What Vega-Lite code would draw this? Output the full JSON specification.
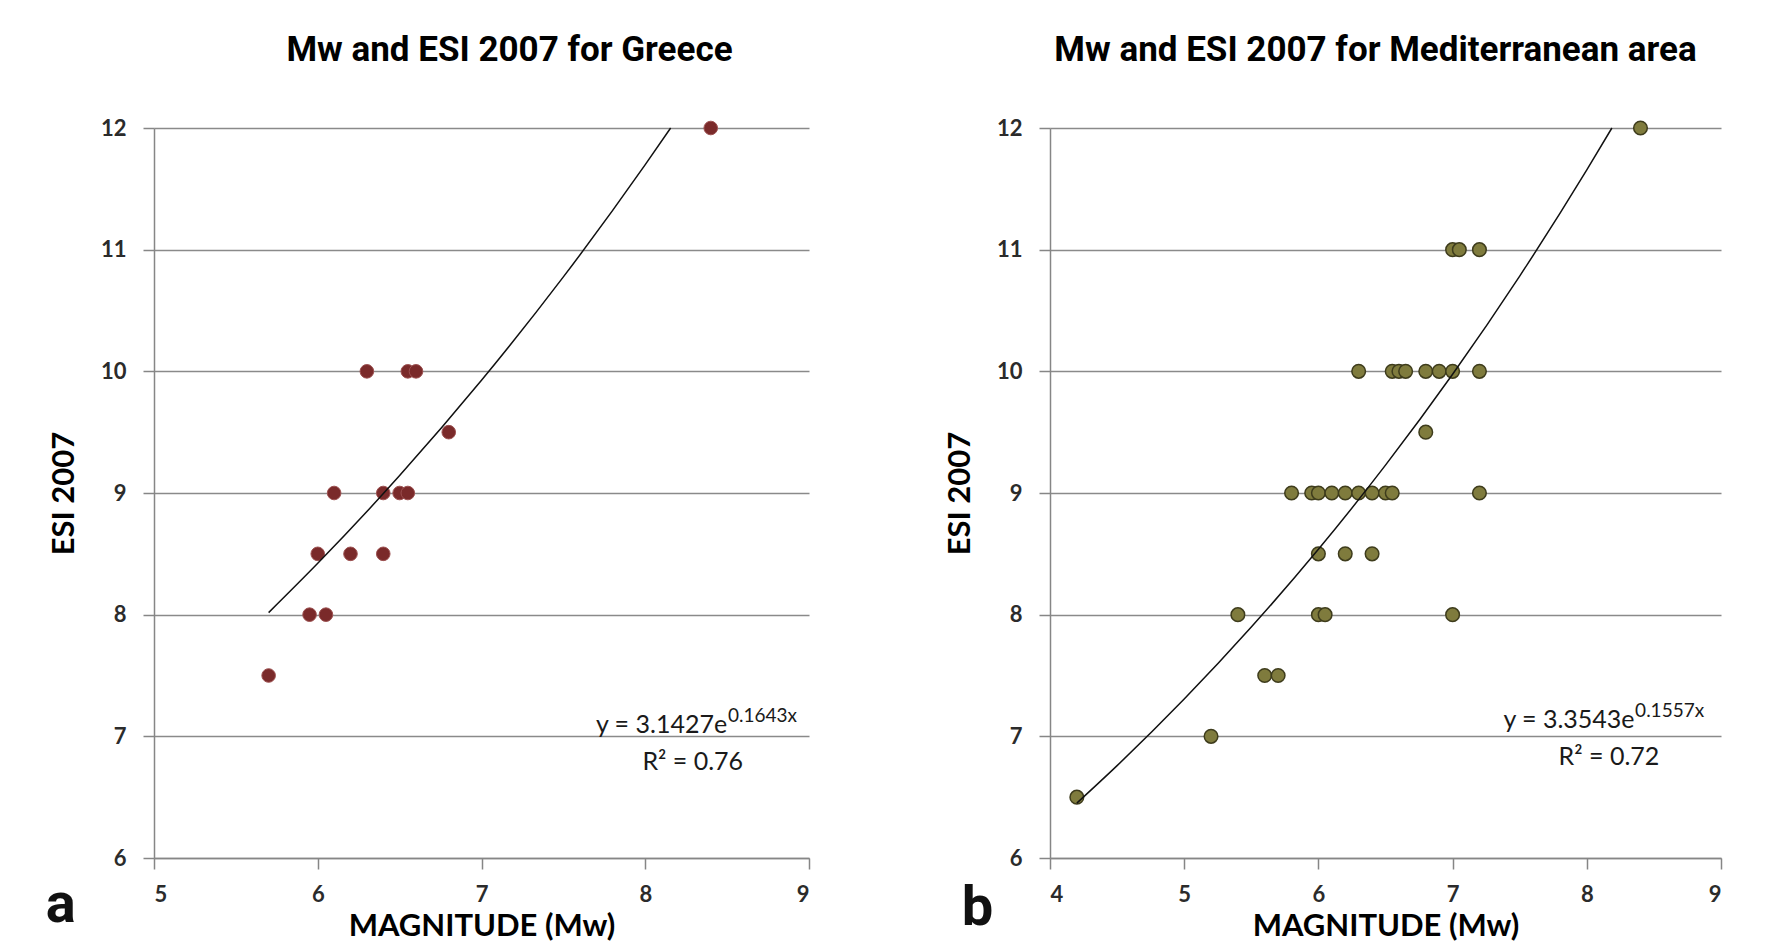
{
  "$schema": "https://vega.github.io/schema/vega-lite/v6.json",
  "background": "white",
  "padding": {"left": 45, "top": 33, "right": 5, "bottom": 5},
  "datasets": {
    "greece": [
      {"Mw": 5.7, "ESI": 7.5}, {"Mw": 5.95, "ESI": 8}, {"Mw": 6.05, "ESI": 8},
      {"Mw": 6.0, "ESI": 8.5}, {"Mw": 6.2, "ESI": 8.5}, {"Mw": 6.4, "ESI": 8.5},
      {"Mw": 6.1, "ESI": 9}, {"Mw": 6.4, "ESI": 9}, {"Mw": 6.5, "ESI": 9}, {"Mw": 6.55, "ESI": 9},
      {"Mw": 6.8, "ESI": 9.5},
      {"Mw": 6.3, "ESI": 10}, {"Mw": 6.55, "ESI": 10}, {"Mw": 6.6, "ESI": 10},
      {"Mw": 8.4, "ESI": 12}
    ],
    "med": [
      {"Mw": 4.2, "ESI": 6.5}, {"Mw": 5.2, "ESI": 7},
      {"Mw": 5.6, "ESI": 7.5}, {"Mw": 5.7, "ESI": 7.5},
      {"Mw": 5.4, "ESI": 8}, {"Mw": 6.0, "ESI": 8}, {"Mw": 6.05, "ESI": 8}, {"Mw": 7.0, "ESI": 8},
      {"Mw": 6.0, "ESI": 8.5}, {"Mw": 6.2, "ESI": 8.5}, {"Mw": 6.4, "ESI": 8.5},
      {"Mw": 5.8, "ESI": 9}, {"Mw": 5.95, "ESI": 9}, {"Mw": 6.0, "ESI": 9}, {"Mw": 6.1, "ESI": 9},
      {"Mw": 6.2, "ESI": 9}, {"Mw": 6.3, "ESI": 9}, {"Mw": 6.4, "ESI": 9}, {"Mw": 6.5, "ESI": 9},
      {"Mw": 6.55, "ESI": 9}, {"Mw": 7.2, "ESI": 9},
      {"Mw": 6.8, "ESI": 9.5},
      {"Mw": 6.3, "ESI": 10}, {"Mw": 6.55, "ESI": 10}, {"Mw": 6.6, "ESI": 10}, {"Mw": 6.65, "ESI": 10},
      {"Mw": 6.8, "ESI": 10}, {"Mw": 6.9, "ESI": 10}, {"Mw": 7.0, "ESI": 10}, {"Mw": 7.2, "ESI": 10},
      {"Mw": 7.0, "ESI": 11}, {"Mw": 7.05, "ESI": 11}, {"Mw": 7.2, "ESI": 11},
      {"Mw": 8.4, "ESI": 12}
    ],
    "trendGreece": [
      {"Mw": 5.7, "ESI": 8.017}, {"Mw": 6.0, "ESI": 8.422}, {"Mw": 6.5, "ESI": 9.143},
      {"Mw": 7.0, "ESI": 9.926}, {"Mw": 7.5, "ESI": 10.776}, {"Mw": 8.0, "ESI": 11.699},
      {"Mw": 8.155, "ESI": 12.0}
    ],
    "trendMed": [
      {"Mw": 4.2, "ESI": 6.451}, {"Mw": 4.5, "ESI": 6.759}, {"Mw": 5.0, "ESI": 7.306},
      {"Mw": 5.5, "ESI": 7.898}, {"Mw": 6.0, "ESI": 8.537}, {"Mw": 6.5, "ESI": 9.229},
      {"Mw": 7.0, "ESI": 9.976}, {"Mw": 7.5, "ESI": 10.783}, {"Mw": 8.0, "ESI": 11.656},
      {"Mw": 8.187, "ESI": 12.0}
    ]
  },
  "spacing": 134,
  "hconcat": [
    {
      "width": 655,
      "height": 730,
      "title": {"text": "Mw and ESI 2007 for Greece", "dx": 28},
      "layer": [
        {
          "data": {"name": "greece"},
          "mark": {"type": "point", "filled": true, "size": 185, "fill": "#7a2a2a", "stroke": "#9c5050", "strokeWidth": 1, "opacity": 1},
          "encoding": {
            "x": {"field": "Mw", "type": "quantitative", "scale": {"domain": [5, 9], "nice": false, "zero": false}, "axis": {"title": "MAGNITUDE (Mw)", "values": [5, 6, 7, 8, 9], "format": "d"}},
            "y": {"field": "ESI", "type": "quantitative", "scale": {"domain": [6, 12], "nice": false, "zero": false}, "axis": {"title": "ESI 2007", "values": [6, 7, 8, 9, 10, 11, 12], "format": "d"}}
          }
        },
        {
          "data": {"name": "trendGreece"},
          "mark": {"type": "line", "color": "#111111", "strokeWidth": 1.5, "interpolate": "monotone"},
          "encoding": {
            "x": {"field": "Mw", "type": "quantitative"},
            "y": {"field": "ESI", "type": "quantitative"}
          }
        },
        {
          "data": {"values": [{"label": "y = 3.1427e"}]},
          "mark": {"type": "text", "align": "right", "baseline": "alphabetic", "fontSize": 25, "color": "#1a1a1a"},
          "encoding": {"x": {"datum": 8.5}, "y": {"datum": 7.025}, "text": {"field": "label"}}
        },
        {
          "data": {"values": [{"label": "0.1643x"}]},
          "mark": {"type": "text", "align": "left", "baseline": "alphabetic", "fontSize": 19, "color": "#1a1a1a"},
          "encoding": {"x": {"datum": 8.505}, "y": {"datum": 7.115}, "text": {"field": "label"}}
        },
        {
          "data": {"values": [{"label": "R² = 0.76"}]},
          "mark": {"type": "text", "align": "center", "baseline": "alphabetic", "fontSize": 25, "color": "#1a1a1a"},
          "encoding": {"x": {"datum": 8.29}, "y": {"datum": 6.72}, "text": {"field": "label"}}
        },
        {
          "data": {"values": [{"label": "a"}]},
          "mark": {"type": "text", "align": "center", "baseline": "alphabetic", "font": "Roboto", "fontWeight": "bold", "fontSize": 56, "color": "#111111"},
          "encoding": {"x": {"datum": 4.43}, "y": {"datum": 5.47}, "text": {"field": "label"}}
        }
      ]
    },
    {
      "width": 671,
      "height": 730,
      "title": {"text": "Mw and ESI 2007 for Mediterranean area", "dx": -10},
      "layer": [
        {
          "data": {"name": "med"},
          "mark": {"type": "point", "filled": true, "size": 185, "fill": "#7f7b3d", "stroke": "#3e3c1c", "strokeWidth": 1.5, "opacity": 1},
          "encoding": {
            "x": {"field": "Mw", "type": "quantitative", "scale": {"domain": [4, 9], "nice": false, "zero": false}, "axis": {"title": "MAGNITUDE (Mw)", "values": [4, 5, 6, 7, 8, 9], "format": "d"}},
            "y": {"field": "ESI", "type": "quantitative", "scale": {"domain": [6, 12], "nice": false, "zero": false}, "axis": {"title": "ESI 2007", "values": [6, 7, 8, 9, 10, 11, 12], "format": "d"}}
          }
        },
        {
          "data": {"name": "trendMed"},
          "mark": {"type": "line", "color": "#111111", "strokeWidth": 1.5, "interpolate": "monotone"},
          "encoding": {
            "x": {"field": "Mw", "type": "quantitative"},
            "y": {"field": "ESI", "type": "quantitative"}
          }
        },
        {
          "data": {"values": [{"label": "y = 3.3543e"}]},
          "mark": {"type": "text", "align": "right", "baseline": "alphabetic", "fontSize": 25, "color": "#1a1a1a"},
          "encoding": {"x": {"datum": 8.356}, "y": {"datum": 7.07}, "text": {"field": "label"}}
        },
        {
          "data": {"values": [{"label": "0.1557x"}]},
          "mark": {"type": "text", "align": "left", "baseline": "alphabetic", "fontSize": 19, "color": "#1a1a1a"},
          "encoding": {"x": {"datum": 8.36}, "y": {"datum": 7.16}, "text": {"field": "label"}}
        },
        {
          "data": {"values": [{"label": "R² = 0.72"}]},
          "mark": {"type": "text", "align": "center", "baseline": "alphabetic", "fontSize": 25, "color": "#1a1a1a"},
          "encoding": {"x": {"datum": 8.165}, "y": {"datum": 6.765}, "text": {"field": "label"}}
        },
        {
          "data": {"values": [{"label": "b"}]},
          "mark": {"type": "text", "align": "center", "baseline": "alphabetic", "font": "Roboto", "fontWeight": "bold", "fontSize": 56, "color": "#111111"},
          "encoding": {"x": {"datum": 3.46}, "y": {"datum": 5.45}, "text": {"field": "label"}}
        }
      ]
    }
  ],
  "config": {
    "view": {"stroke": null},
    "font": "Lato",
    "text": {"font": "Lato"},
    "title": {"font": "Roboto", "fontSize": 35, "fontWeight": "bold", "color": "#000000", "offset": 49, "anchor": "middle"},
    "axis": {
      "labelFont": "Lato", "labelFontSize": 22, "labelFontWeight": "bold", "labelColor": "#2b2b2b",
      "titleFont": "Lato", "titleFontSize": 31, "titleFontWeight": "bold", "titleColor": "#000000",
      "domainColor": "#868686", "domainWidth": 1.5,
      "tickColor": "#868686", "tickWidth": 1.5, "tickSize": 11,
      "gridColor": "#8a8a8a", "gridWidth": 1.5,
      "labelPadding": 17
    },
    "axisX": {"grid": false, "labelPadding": 15, "titlePadding": 6},
    "axisY": {"grid": true, "titlePadding": 20}
  }
}
